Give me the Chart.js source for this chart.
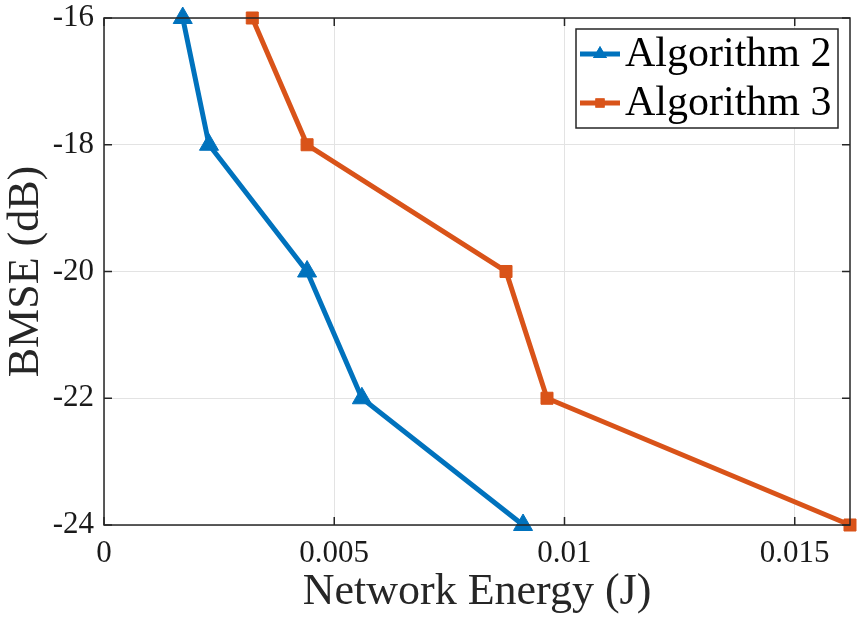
<!DOCTYPE html>
<html>
<head>
<meta charset="utf-8">
<script src="https://cdn.jsdelivr.net/npm/chart.js@4/dist/chart.umd.min.js"></script>
<style>
  html, body { margin: 0; padding: 0; background: #fff; }
  #wrap { width: 863px; height: 619px; }
</style>
</head>
<body>
<div id="wrap"><canvas id="myChart" width="863" height="619"></canvas></div>
<script>
const bmse = [-16, -18, -20, -22, -24];
const energyAlg2 = [0.00171, 0.00228, 0.00441, 0.00560, 0.00910];
const energyAlg3 = [0.00322, 0.00441, 0.00873, 0.00962, 0.0162];
const xTicks = [0, 0.005, 0.01, 0.015];
const yTicks = [-24, -22, -20, -18, -16];
const seriesNames = ['Algorithm 2', 'Algorithm 3'];

const FONT = '"Liberation Serif", "Times New Roman", serif';

function points(xs) {
  return xs.map((x, i) => ({ x: x, y: bmse[i] }));
}

// box round the plot + inward tick marks, like matlab
const boxPlugin = {
  id: 'box',
  afterDatasetsDraw(chart) {
    const { ctx, chartArea: a, scales } = chart;
    ctx.save();
    ctx.strokeStyle = '#262626';
    ctx.lineWidth = 1.5;
    ctx.strokeRect(a.left, a.top, a.right - a.left, a.bottom - a.top);
    ctx.beginPath();
    xTicks.forEach(v => {
      const px = scales.x.getPixelForValue(v);
      ctx.moveTo(px, a.bottom); ctx.lineTo(px, a.bottom - 8);
      ctx.moveTo(px, a.top); ctx.lineTo(px, a.top + 8);
    });
    yTicks.forEach(v => {
      const py = scales.y.getPixelForValue(v);
      ctx.moveTo(a.left, py); ctx.lineTo(a.left + 8, py);
      ctx.moveTo(a.right, py); ctx.lineTo(a.right - 8, py);
    });
    ctx.stroke();
    ctx.restore();
  }
};

// legend drawn inside the top right corner
const legendPlugin = {
  id: 'boxLegend',
  afterDraw(chart) {
    const { ctx } = chart;
    const left = 576, top = 29, w = 262, h = 99;
    ctx.save();
    ctx.fillStyle = '#fff';
    ctx.fillRect(left, top, w, h);
    ctx.strokeStyle = '#262626';
    ctx.lineWidth = 1.5;
    ctx.strokeRect(left, top, w, h);
    chart.data.datasets.forEach((ds, i) => {
      const cy = top + 25 + i * 49;
      ctx.strokeStyle = ds.borderColor;
      ctx.lineWidth = 5;
      ctx.beginPath();
      ctx.moveTo(580, cy); ctx.lineTo(620, cy);
      ctx.stroke();
      ctx.fillStyle = ds.borderColor;
      Chart.helpers.drawPoint(ctx, { pointStyle: ds.pointStyle, radius: ds.pointStyle === 'triangle' ? 8 : 6.5, rotation: 0, borderWidth: 0 }, 600, cy);
      ctx.fill();
      ctx.fillStyle = '#000';
      ctx.font = '42px ' + FONT;
      ctx.textBaseline = 'middle';
      ctx.fillText(ds.label, 625, cy + 1);
    });
    ctx.restore();
  }
};

new Chart(document.getElementById('myChart'), {
  type: 'line',
  data: {
    datasets: [{
      label: seriesNames[0],
      data: points(energyAlg2),
      borderColor: '#0072BD',
      backgroundColor: '#0072BD',
      borderWidth: 5,
      pointStyle: 'triangle',
      pointRadius: 11,
      pointBorderWidth: 1,
      tension: 0
    }, {
      label: seriesNames[1],
      data: points(energyAlg3),
      borderColor: '#D95319',
      backgroundColor: '#D95319',
      borderWidth: 5,
      pointStyle: 'rect',
      pointRadius: 8.5,
      pointBorderWidth: 1,
      tension: 0
    }]
  },
  plugins: [boxPlugin, legendPlugin],
  options: {
    responsive: false,
    animation: false,
    clip: false,
    layout: { padding: { top: 18, right: 13, left: 0, bottom: 0 } },
    plugins: {
      legend: { display: false },
      tooltip: { enabled: false }
    },
    scales: {
      x: {
        type: 'linear',
        min: 0,
        max: 0.0162,
        afterBuildTicks: s => { s.ticks = xTicks.map(v => ({ value: v })); },
        afterFit: s => { s.height = 94; s.paddingLeft = 0; s.paddingRight = 0; },
        border: { display: false },
        grid: { color: '#e3e3e3', lineWidth: 1, drawTicks: false },
        ticks: {
          padding: 10,
          color: '#1a1a1a',
          font: { family: FONT, size: 31 },
          callback: v => String(v)
        },
        title: {
          display: true,
          text: 'Network Energy (J)',
          color: '#262626',
          font: { family: FONT, size: 44 },
          padding: { top: 0, bottom: 0 }
        }
      },
      y: {
        type: 'linear',
        min: -24,
        max: -16,
        afterBuildTicks: s => { s.ticks = yTicks.map(v => ({ value: v })); },
        afterFit: s => { s.width = 104; s.paddingTop = 0; s.paddingBottom = 0; },
        border: { display: false },
        grid: { color: '#e3e3e3', lineWidth: 1, drawTicks: false },
        ticks: {
          padding: 10,
          color: '#1a1a1a',
          font: { family: FONT, size: 31 },
          callback: v => String(v)
        },
        title: {
          display: true,
          text: 'BMSE (dB)',
          color: '#262626',
          font: { family: FONT, size: 44 },
          padding: { top: 0, bottom: 0 }
        }
      }
    }
  }
});
</script>
</body>
</html>
